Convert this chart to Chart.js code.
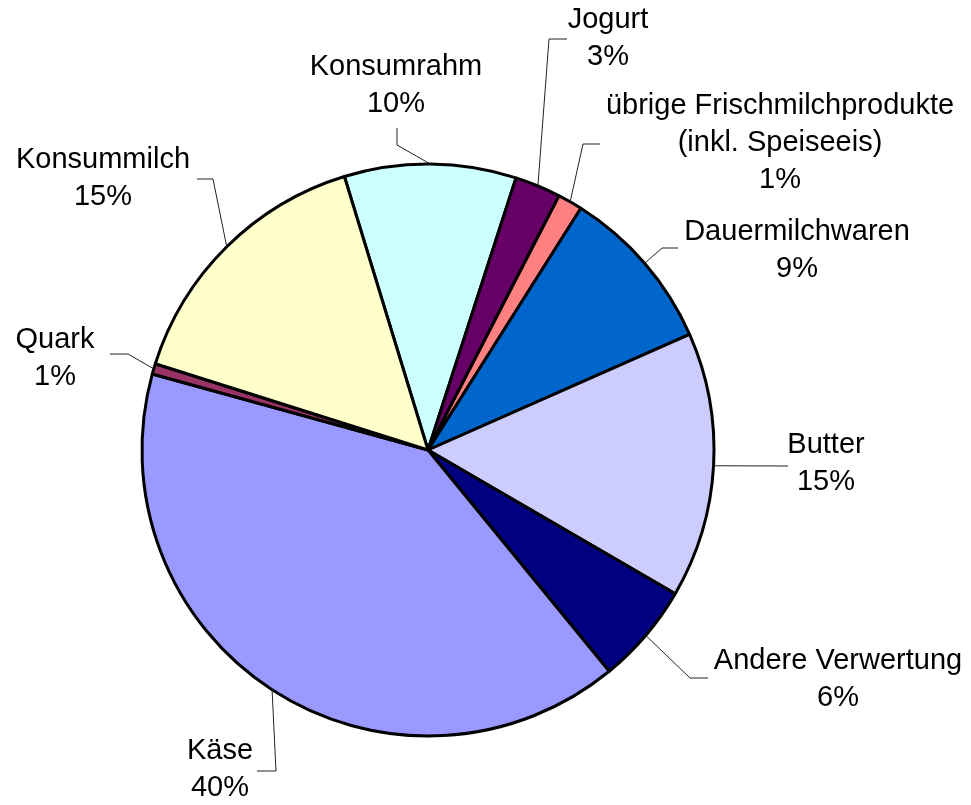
<!DOCTYPE html>
<html>
<head>
<meta charset="utf-8">
<script src="https://cdn.jsdelivr.net/npm/chart.js@4"></script>
<style>
  html, body { margin: 0; padding: 0; background: #fff; }
  #wrap { width: 971px; height: 805px; position: relative; }
</style>
</head>
<body>
<div id="wrap"><canvas id="pie" width="971" height="805"></canvas></div>
<script>
// Milchverwertung, Anteile in %
const categories = [
  'Konsumrahm', 'Jogurt', ['übrige Frischmilchprodukte', '(inkl. Speiseeis)'],
  'Dauermilchwaren', 'Butter', 'Andere Verwertung', 'Käse', 'Quark', 'Konsummilch'
];
const shares = [9.7, 2.6, 1.4, 9.4, 15.0, 5.7, 40.2, 0.6, 15.4];
const sliceColors = ['#CCFFFF', '#660066', '#FF8080', '#0066CC', '#CCCCFF', '#000080', '#9999FF', '#993366', '#FFFFCC'];

// label placement: text centre x, first line y, leader points after the arc point
const labelLayout = [
  { x: 396, y: 67,  leader: [[397, 145], [397, 128]] },
  { x: 608, y: 20,  leader: [[549, 39], [567, 39]] },
  { x: 780, y: 106, leader: [[583, 144], [600, 144]] },
  { x: 797, y: 232, leader: [[662, 248], [678, 248]] },
  { x: 826, y: 445, leader: [[788, 466]] },
  { x: 838, y: 661, leader: [[690, 678], [708, 678]] },
  { x: 220, y: 751, leader: [[276, 771], [257, 771]] },
  { x: 55,  y: 340, leader: [[128, 354], [110, 354]] },
  { x: 103, y: 160, leader: [[213, 179], [197, 179]] }
];

const LINE_H = 37;

const outsideLabels = {
  id: 'outsideLabels',
  afterDatasetsDraw(chart) {
    const ctx = chart.ctx;
    const meta = chart.getDatasetMeta(0);
    const total = shares.reduce((a, b) => a + b, 0);
    ctx.save();
    meta.data.forEach((arc, i) => {
      const p = arc.getProps(['x', 'y', 'startAngle', 'endAngle', 'outerRadius'], true);
      const mid = (p.startAngle + p.endAngle) / 2;
      const ax = p.x + Math.cos(mid) * p.outerRadius;
      const ay = p.y + Math.sin(mid) * p.outerRadius;
      const lay = labelLayout[i];

      ctx.strokeStyle = '#222';
      ctx.lineWidth = 1;
      ctx.beginPath();
      ctx.moveTo(ax, ay);
      lay.leader.forEach(pt => ctx.lineTo(pt[0], pt[1]));
      ctx.stroke();

      const name = categories[i];
      const lines = (Array.isArray(name) ? name : [name]).concat(Math.round(shares[i] / total * 100) + '%');
      ctx.fillStyle = '#000';
      ctx.font = '29px "Liberation Sans", Arial, sans-serif';
      ctx.textAlign = 'center';
      ctx.textBaseline = 'middle';
      lines.forEach((t, k) => ctx.fillText(t, lay.x, lay.y + k * LINE_H));
    });
    ctx.restore();
  }
};

new Chart(document.getElementById('pie'), {
  type: 'pie',
  data: {
    labels: categories,
    datasets: [{
      data: shares,
      backgroundColor: sliceColors,
      borderColor: '#000',
      borderWidth: 3
    }]
  },
  options: {
    responsive: false,
    animation: false,
    rotation: -17,
    radius: 286,
    layout: { padding: { left: 0, right: 115, top: 95, bottom: 0 } },
    plugins: { legend: { display: false }, tooltip: { enabled: false } }
  },
  plugins: [outsideLabels]
});
</script>
</body>
</html>
